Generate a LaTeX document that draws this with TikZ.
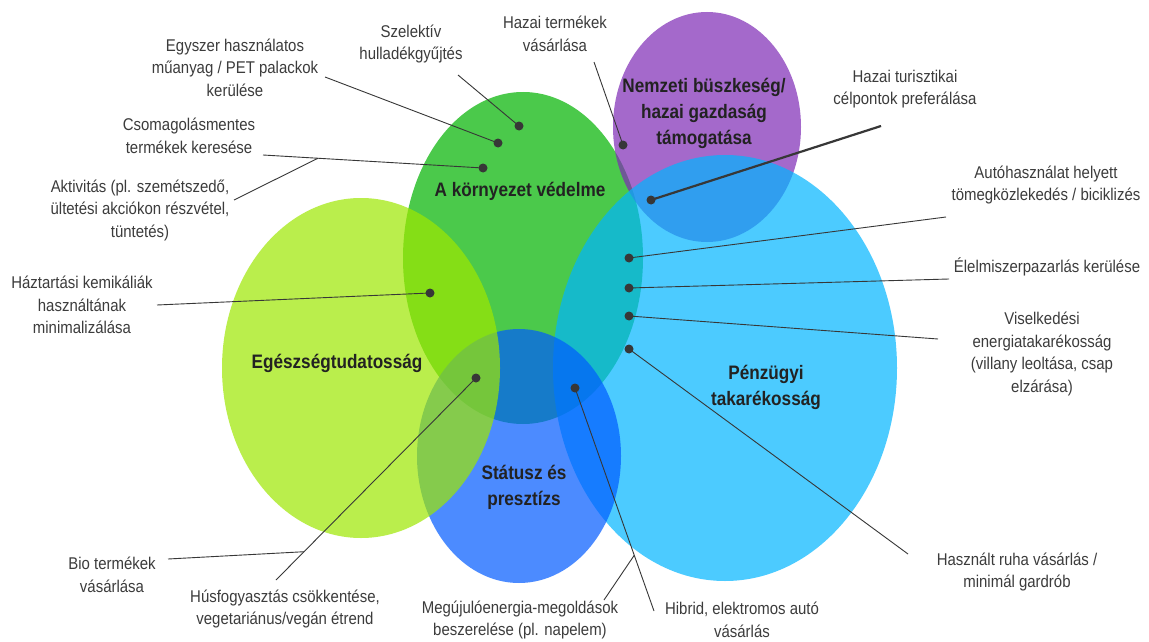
\documentclass[tikz,border=0pt]{standalone}
\usepackage{fontspec}
\setmainfont{Liberation Sans}[FakeStretch=0.88]
\usetikzlibrary{calc}
\definecolor{cgreen}{RGB}{75,201,75}
\definecolor{clgreen}{RGB}{158,231,0}
\definecolor{cpurple}{RGB}{126,42,181}
\definecolor{clblue}{RGB}{0,181,255}
\definecolor{cblue}{RGB}{0,91,255}
\definecolor{ctext}{RGB}{60,60,60}
\definecolor{ctitle}{RGB}{34,34,34}
\definecolor{cline}{RGB}{55,55,55}
\begin{document}
\begin{tikzpicture}[x=1pt,y=-1pt,
  blob/.style={fill opacity=0.7},
  lbl/.style={align=center, text=ctext, font=\fontsize{17}{22.5}\selectfont, inner sep=0pt},
  ttl/.style={align=center, text=ctitle, font=\fontsize{19.5}{26}\selectfont\bfseries, inner sep=0pt},
  lead/.style={draw=cline, line width=0.9pt},
  thicklead/.style={draw=cline, line width=2.2pt},
  dot/.style={circle, fill=cline, inner sep=0pt, minimum size=9pt}]
\fill[white] (0,0) rectangle (1149,642);
\useasboundingbox (0,0) rectangle (1149,642);

% circles
\fill[cgreen] (523,258) ellipse [x radius=120pt, y radius=166pt];
\fill[cpurple, blob] (707,127) ellipse [x radius=94pt, y radius=115pt];
\fill[clblue, blob] (725,368) ellipse [x radius=172pt, y radius=213pt];
\fill[cblue, blob] (519,456) ellipse [x radius=102pt, y radius=127pt];
\fill[clgreen, blob] (361,368) ellipse [x radius=139pt, y radius=170pt];

% dots
\node[dot] (d1) at (519,126) {};
\node[dot] (d2) at (498,143) {};
\node[dot] (d3) at (483,168) {};
\node[dot] (d4) at (623,145) {};
\node[dot] (d5) at (651,200) {};
\node[dot] (d6) at (629,258) {};
\node[dot] (d7) at (629,288) {};
\node[dot] (d8) at (629,316) {};
\node[dot] (d9) at (629,349) {};
\node[dot] (d10) at (430,293) {};
\node[dot] (d11) at (476,378) {};
\node[dot] (d12) at (575,388) {};

% free ends
\coordinate (e1) at (458,75);
\coordinate (e2) at (325,77);
\coordinate (e3) at (263,155);
\coordinate (e4) at (594,62);
\coordinate (e5) at (881,126);
\coordinate (e6) at (946,217);
\coordinate (e7) at (949,279);
\coordinate (e8) at (938,339);
\coordinate (e9) at (908,554);
\coordinate (e10) at (157,305);
\coordinate (e11) at (276,580);
\coordinate (e12) at (654,611);
\coordinate (eA) at (234,200);
\coordinate (eB) at (168,559);
\coordinate (eM) at (604,600);
\coordinate (j1) at ($(e3)!0.25!(d3.center)$);
\coordinate (j2) at ($(e11)!0.14!(d11.center)$);
\coordinate (j3) at ($(e12)!0.25!(d12.center)$);

% leaders
\draw[lead] (e1) -- (d1.center);
\draw[lead] (e2) -- (d2.center);
\draw[lead] (e3) -- (d3.center);
\draw[lead] (e4) -- (d4.center);
\draw[thicklead] (e5) -- (d5.center);
\draw[lead] (e6) -- (d6.center);
\draw[lead] (e7) -- (d7.center);
\draw[lead] (e8) -- (d8.center);
\draw[lead] (e9) -- (d9.center);
\draw[lead] (e10) -- (d10.center);
\draw[lead] (e11) -- (d11.center);
\draw[lead] (e12) -- (d12.center);
\draw[lead] (eA) -- (j1);
\draw[lead] (eB) -- (j2);
\draw[lead] (eM) -- (j3);

% titles
\node[ttl] (tk) at (520,191) {A környezet védelme};
\node[ttl] (tn) at (704,113) {Nemzeti büszkeség/\\hazai gazdaság\\támogatása};
\node[ttl] (te) at (337,363) {Egészségtudatosság};
\node[ttl] (ts) at (524,487) {Státusz és\\presztízs};
\node[ttl] (tp) at (766,387) {Pénzügyi\\takarékosság};

% labels
\node[lbl] (l1) at (235,67.5) {Egyszer használatos\\műanyag / PET palackok\\kerülése};
\node[lbl] (l2) at (411,44) {Szelektív\\hulladékgyűjtés};
\node[lbl] (l3) at (555,34) {Hazai termékek\\vásárlása};
\node[lbl] (l4) at (905,89) {Hazai turisztikai\\célpontok preferálása};
\node[lbl] (l5) at (189,136) {Csomagolásmentes\\termékek keresése};
\node[lbl] (l6) at (140,210) {Aktivitás (pl. szemétszedő,\\ültetési akciókon részvétel,\\tüntetés)};
\node[lbl] (l7) at (1046,185) {Autóhasználat helyett\\tömegközlekedés / biciklizés};
\node[lbl] (l8) at (1047,267) {Élelmiszerpazarlás kerülése};
\node[lbl] (l9) at (1042,354) {Viselkedési\\energiatakarékosság\\(villany leoltása, csap\\elzárása)};
\node[lbl] (l10) at (82,305) {Háztartási kemikáliák\\használtának\\minimalizálása};
\node[lbl] (l11) at (112,575) {Bio termékek\\vásárlása};
\node[lbl] (l12) at (285,609) {Húsfogyasztás csökkentése,\\vegetariánus/vegán étrend};
\node[lbl] (l13) at (520,620) {Megújulóenergia-megoldások\\beszerelése (pl. napelem)};
\node[lbl] (l14) at (742,620) {Hibrid, elektromos autó\\vásárlás};
\node[lbl] (l15) at (1017,572) {Használt ruha vásárlás /\\minimál gardrób};
\end{tikzpicture}
\end{document}
